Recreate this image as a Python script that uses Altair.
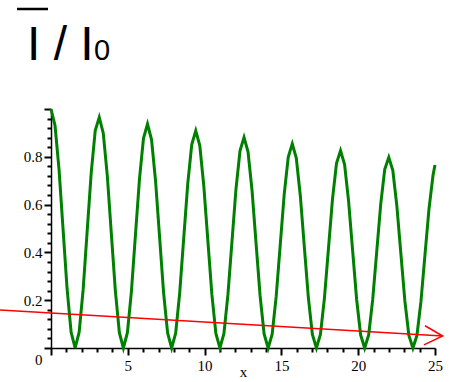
import altair as alt
import pandas as pd

# ---- data ----
x_vals = [0.000, 0.262, 0.524, 0.785, 1.047, 1.309, 1.571, 1.833, 2.094, 2.356, 2.618, 2.880,
          3.142, 3.403, 3.665, 3.927, 4.189, 4.451, 4.712, 4.974, 5.236, 5.498, 5.760, 6.021,
          6.283, 6.545, 6.807, 7.069, 7.330, 7.592, 7.854, 8.116, 8.378, 8.639, 8.901, 9.163,
          9.425, 9.687, 9.948, 10.210, 10.472, 10.734, 10.996, 11.257, 11.519, 11.781, 12.043, 12.305,
          12.566, 12.828, 13.090, 13.352, 13.614, 13.875, 14.137, 14.399, 14.661, 14.923, 15.184, 15.446,
          15.708, 15.970, 16.232, 16.493, 16.755, 17.017, 17.279, 17.541, 17.802, 18.064, 18.326, 18.588,
          18.850, 19.111, 19.373, 19.635, 19.897, 20.159, 20.420, 20.682, 20.944, 21.206, 21.468, 21.729,
          21.991, 22.253, 22.515, 22.777, 23.038, 23.300, 23.562, 23.824, 24.086, 24.347, 24.609, 24.871,
          25.000]
y_vals = [1.000, 0.931, 0.746, 0.497, 0.248, 0.066, 0.000, 0.066, 0.245, 0.490, 0.733, 0.910,
          0.965, 0.899, 0.721, 0.480, 0.240, 0.064, 0.000, 0.064, 0.237, 0.473, 0.707, 0.877,
          0.937, 0.872, 0.699, 0.465, 0.232, 0.063, 0.000, 0.062, 0.230, 0.458, 0.686, 0.851,
          0.909, 0.847, 0.678, 0.451, 0.225, 0.061, 0.000, 0.060, 0.223, 0.444, 0.665, 0.825,
          0.881, 0.821, 0.658, 0.437, 0.218, 0.059, 0.000, 0.058, 0.216, 0.430, 0.644, 0.799,
          0.854, 0.795, 0.637, 0.423, 0.211, 0.057, 0.000, 0.057, 0.209, 0.416, 0.623, 0.773,
          0.826, 0.769, 0.616, 0.410, 0.204, 0.055, 0.000, 0.055, 0.202, 0.403, 0.603, 0.748,
          0.798, 0.743, 0.596, 0.396, 0.197, 0.053, 0.000, 0.053, 0.195, 0.390, 0.582, 0.723,
          0.766]

# red arrow (shaft and open head)
arrow_x = [-3.32, 25.5]
arrow_y = [0.159, 0.050]
head_x = [24.35, 25.5, 24.28]
head_y = [0.093, 0.050, 0.013]

x_ticks = list(range(0, 26))
y_ticks = [0.0, 0.04, 0.08, 0.12, 0.16, 0.2, 0.24, 0.28, 0.32, 0.36, 0.4, 0.44, 0.48,
           0.52, 0.56, 0.6, 0.64, 0.68, 0.72, 0.76, 0.8, 0.84, 0.88, 0.92, 0.96, 1.0]

title_main = "I / I"
title_sub = "0"

curve = pd.DataFrame({"x": x_vals, "y": y_vals})
shaft = pd.DataFrame({"x": arrow_x, "y": arrow_y, "o": [0, 1]})
head = pd.DataFrame({"x": head_x, "y": head_y, "o": [0, 1, 2]})

xscale = alt.Scale(domain=[0, 25], nice=False, zero=False)
yscale = alt.Scale(domain=[0, 1.0], nice=False, zero=False)

x_axis = alt.Axis(
    values=x_ticks,
    labelExpr="datum.value % 5 == 0 && datum.value > 0 ? datum.label : ''",
    ticks=True, tickSize=7, tickWidth=2,
    tickDash={"condition": {"test": "datum.value % 5 == 0", "value": [7, 0]}, "value": [4, 20]},
    labelOverlap=False, labelFlush=False, grid=False,
    title="x", titleFont="Liberation Serif", titleFontSize=15, titleFontWeight="normal",
    titlePadding=-9, titleColor="black",
    labelFont="Liberation Serif", labelFontSize=15, labelColor="black", labelPadding=3,
    domainColor="black", domainWidth=1.5, tickColor="black",
)
y_axis = alt.Axis(
    values=y_ticks,
    labelExpr="datum.value == 0 ? '0' : (round(datum.value*100) % 20 == 0 && datum.value < 0.9 ? format(datum.value, '.1f') : '')",
    ticks=True, tickSize=7, tickWidth=2,
    tickDash={"condition": {"test": "round(datum.value*100) % 20 == 0", "value": [7, 0]}, "value": [4, 20]},
    labelOffset={"condition": {"test": "datum.value == 0", "value": 11}, "value": 0},
    labelOverlap=False, labelFlush=False, grid=False, title=None,
    labelFont="Liberation Serif", labelFontSize=15, labelColor="black", labelPadding=2,
    domainColor="black", domainWidth=1.5, tickColor="black",
)

X = alt.X("x:Q", scale=xscale, axis=x_axis)
Y = alt.Y("y:Q", scale=yscale, axis=y_axis)

green = alt.Chart(curve).mark_line(color="#008000", strokeWidth=3).encode(x=X, y=Y)

red_shaft = alt.Chart(shaft).mark_line(color="#ff0000", strokeWidth=1.5).encode(
    x=X, y=Y, order="o:O"
)
red_head = alt.Chart(head).mark_line(color="#ff0000", strokeWidth=1.5).encode(
    x=X, y=Y, order="o:O"
)

t1 = alt.Chart(pd.DataFrame({"t": [title_main]})).mark_text(
    font="Liberation Sans", fontSize=48, align="left", baseline="alphabetic", color="black"
).encode(x=alt.value(-24), y=alt.value(-49), text="t:N")
t2 = alt.Chart(pd.DataFrame({"t": [title_sub]})).mark_text(
    font="Liberation Sans", fontSize=29, align="left", baseline="alphabetic", color="black"
).encode(x=alt.value(43), y=alt.value(-49), text="t:N")
overline = alt.Chart(pd.DataFrame({"t": [title_main]})).mark_rule(
    color="black", strokeWidth=2.5
).encode(x=alt.value(-34), x2=alt.value(-3), y=alt.value(-100))

chart = alt.layer(green, red_shaft, red_head, t1, t2, overline).properties(
    width=384, height=239,
    autosize=alt.AutoSizeParams(type="none"),
    padding={"left": 51, "top": 109, "right": 15, "bottom": 34},
    background="white",
).configure_view(stroke=None)

chart.save("out.html", embed_options={"renderer": "svg", "actions": False})
